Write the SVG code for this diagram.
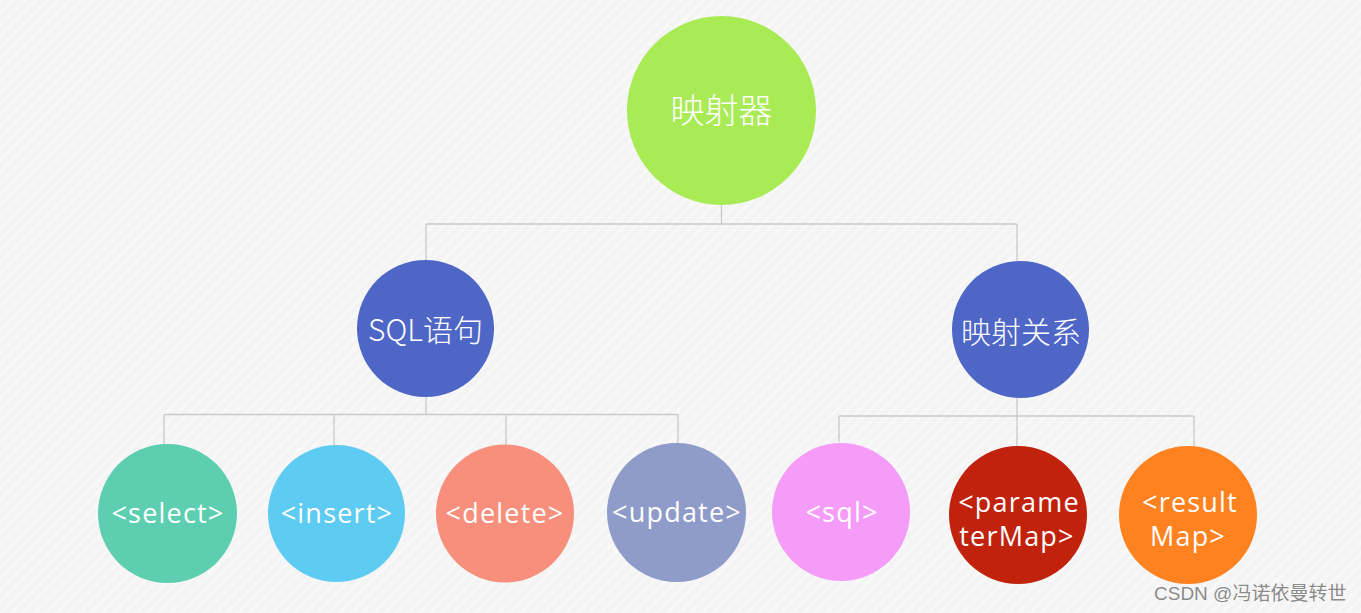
<svg xmlns="http://www.w3.org/2000/svg" width="1361" height="613" viewBox="0 0 1361 613">
<defs>
<pattern id="hatch" width="8" height="8" patternUnits="userSpaceOnUse" patternTransform="rotate(-45)">
<rect width="8" height="8" fill="#f4f4f4"/>
<rect width="8" height="3" fill="#f8f8f8"/>
</pattern>
<style>
.c{stroke:none}
.ln{stroke:#c9c9c9;stroke-width:1.3;fill:none}
.zh{font-family:"Noto Sans CJK SC","Noto Sans",sans-serif;fill:#fff;text-anchor:middle;font-weight:300}
.en{font-family:"Open Sans","Noto Sans CJK SC",sans-serif;fill:#fff;text-anchor:middle;font-size:27px;letter-spacing:1.2px}
.wm{font-family:"Liberation Sans","Noto Sans CJK SC",sans-serif;font-size:19px;fill:#8a8a8a;stroke:#ffffff;stroke-width:0.6;paint-order:stroke}
</style>
</defs>
<rect width="1361" height="613" fill="url(#hatch)"/>
<g id="connectors">
<path class="ln" d="M721.5 205 V224 M426 224 H1017 M426 224 V260 M1017 224 V261"/>
<path class="ln" d="M426 397 V414.5 M164 414.5 H678 M164 414.5 V444 M334 414.5 V445 M506 414.5 V445 M678 414.5 V443"/>
<path class="ln" d="M1017 398 V416 M839 416 H1194 M839 416 V442 M1017 416 V446 M1194 416 V446"/>
</g>
<g id="n-root"><circle class="c" cx="721.5" cy="110.5" r="94.5" fill="#a9eb55"/><text class="zh" x="721.5" y="123" font-size="34">映射器</text></g>
<g id="n-sql"><circle class="c" cx="425.5" cy="328.5" r="68.5" fill="#4e66c6"/><text class="zh" x="425.5" y="341" font-size="30">SQL语句</text></g>
<g id="n-map"><circle class="c" cx="1020.5" cy="329.5" r="68.5" fill="#4e66c6"/><text class="zh" x="1021" y="343" font-size="30">映射关系</text></g>
<g id="n-select"><circle class="c" cx="167.5" cy="513.5" r="69.5" fill="#5dcfb0"/><text class="en" x="168" y="523">&lt;select&gt;</text></g>
<g id="n-insert"><circle class="c" cx="336.5" cy="513.5" r="68.5" fill="#5ecbf3"/><text class="en" x="337" y="523">&lt;insert&gt;</text></g>
<g id="n-delete"><circle class="c" cx="505" cy="513.5" r="69" fill="#f78f7c"/><text class="en" x="505" y="523">&lt;delete&gt;</text></g>
<g id="n-update"><circle class="c" cx="676.5" cy="512.5" r="69.5" fill="#8f9bc9"/><text class="en" x="677" y="522">&lt;update&gt;</text></g>
<g id="n-sqltag"><circle class="c" cx="841" cy="512" r="69" fill="#f59cf9"/><text class="en" x="842" y="522">&lt;sql&gt;</text></g>
<g id="n-param"><circle class="c" cx="1018" cy="515" r="69" fill="#c0220c"/><text class="en" x="1019" y="512">&lt;parame</text><text class="en" x="1017" y="546">terMap&gt;</text></g>
<g id="n-result"><circle class="c" cx="1188" cy="515" r="69" fill="#ff8221"/><text class="en" x="1190" y="512">&lt;result</text><text class="en" x="1188" y="546">Map&gt;</text></g>
<text class="wm" x="1154" y="600">CSDN @冯诺依曼转世</text>
</svg>
